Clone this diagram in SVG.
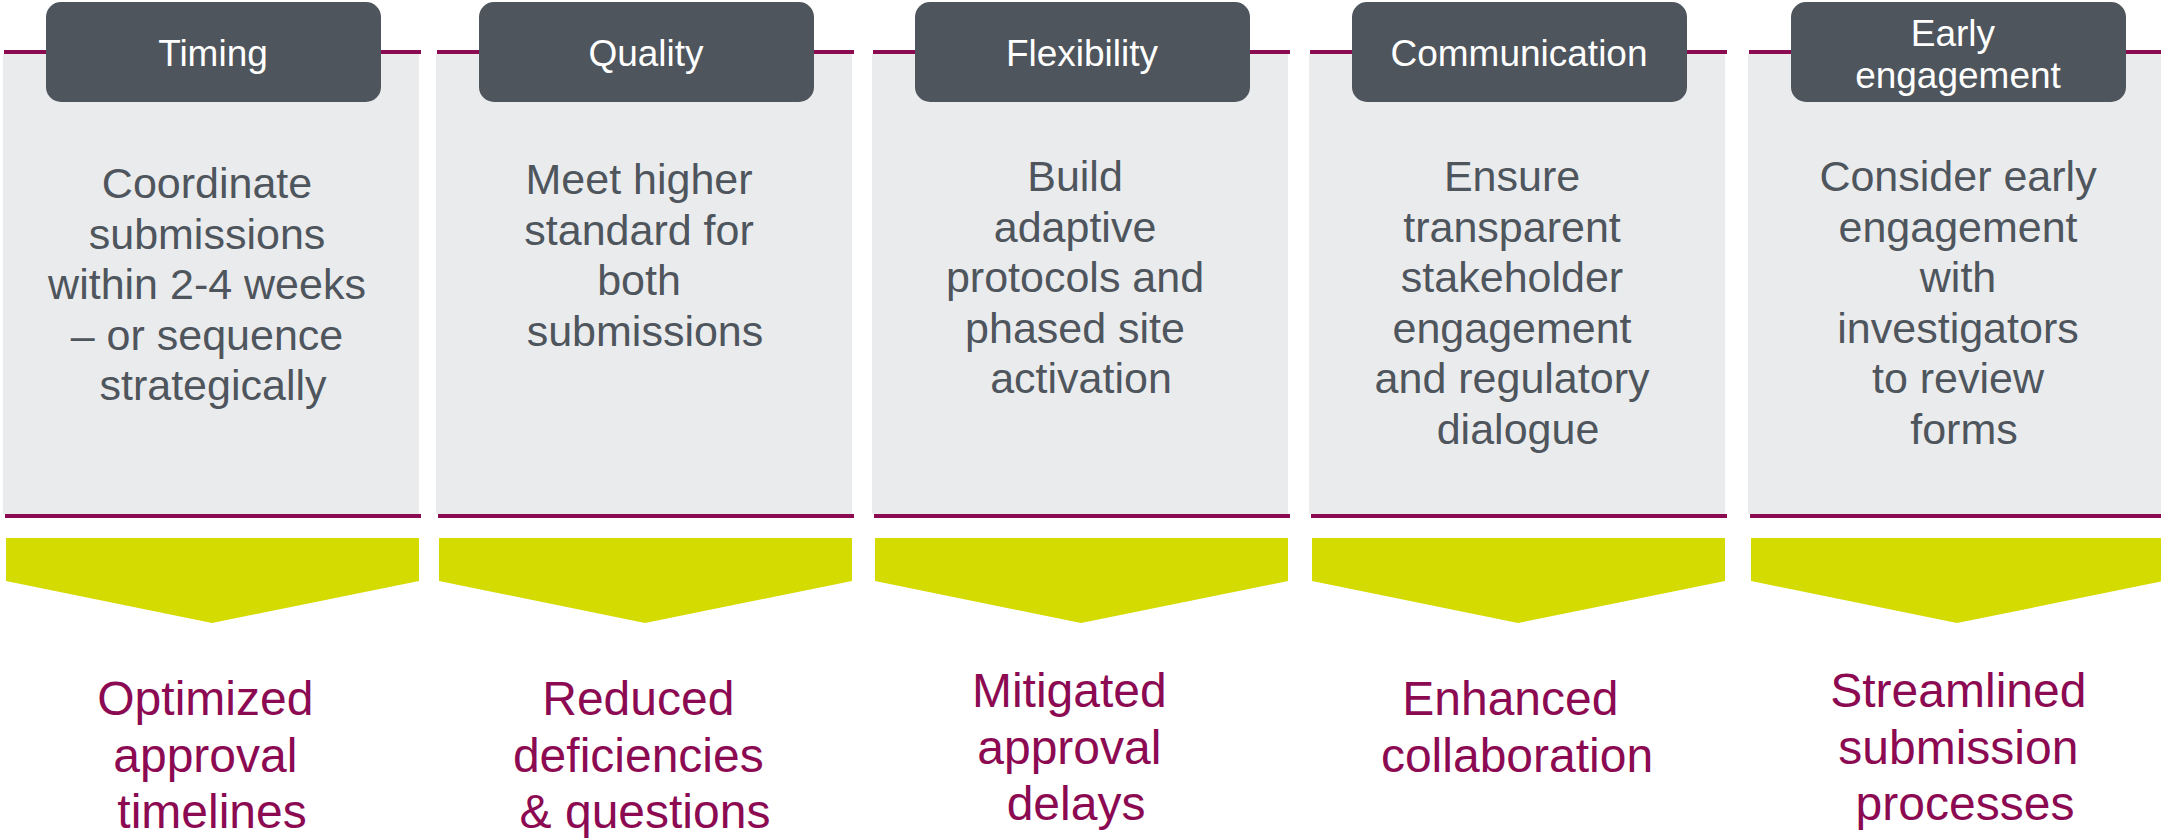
<svg xmlns="http://www.w3.org/2000/svg" width="2161" height="839" viewBox="0 0 2161 839">
  <style>
    .panel { fill: #EAEBED; }
    .rule { fill: #8C0A52; }
    .chev { fill: #D4DB00; }
    .head { fill: #4E555C; }
    .htxt { font-family: "Liberation Sans", Arial, sans-serif; font-size: 37px; fill: #FFFFFF; text-anchor: middle; }
    .body { font-family: "Liberation Sans", Arial, sans-serif; font-size: 43px; fill: #4E555C; text-anchor: middle; }
    .out { font-family: "Liberation Sans", Arial, sans-serif; font-size: 48px; fill: #8C0A52; text-anchor: middle; }
  </style>
  <defs>
    <!-- one column: panel, rules, header tab, down chevron -->
    <g id="col">
      <rect class="panel" x="0" y="54" width="416" height="460"/>
      <rect class="rule" x="1" y="50" width="417" height="4"/>
      <rect class="rule" x="2" y="514" width="416" height="4"/>
      <polygon class="chev" points="3,538 416,538 416,581 209,623 3,581"/>
      <rect class="head" x="43" y="2" width="335" height="100" rx="15" ry="15"/>
    </g>
  </defs>
  <rect width="2161" height="839" fill="#FFFFFF"/>

  <g id="timing">
    <use href="#col" x="3" y="0"/>
    <text class="htxt" x="213" y="66">Timing</text>
    <text class="body" x="213" y="198">
      <tspan x="213">Coordinate</tspan>
      <tspan x="213" dy="50.6">submissions</tspan>
      <tspan x="213" dy="50.6">within 2-4 weeks</tspan>
      <tspan x="213" dy="50.6">– or sequence</tspan>
      <tspan x="213" dy="50.6">strategically</tspan>
    </text>
    <text class="out" x="212" y="715">
      <tspan x="212">Optimized</tspan>
      <tspan x="212" dy="56.5">approval</tspan>
      <tspan x="212" dy="56.5">timelines</tspan>
    </text>
  </g>

  <g id="quality">
    <use href="#col" x="436" y="0"/>
    <text class="htxt" x="646" y="66">Quality</text>
    <text class="body" x="645" y="194">
      <tspan x="645">Meet higher</tspan>
      <tspan x="645" dy="50.6">standard for</tspan>
      <tspan x="645" dy="50.6">both</tspan>
      <tspan x="645" dy="50.6">submissions</tspan>
    </text>
    <text class="out" x="645" y="715">
      <tspan x="645">Reduced</tspan>
      <tspan x="645" dy="56.5">deficiencies</tspan>
      <tspan x="645" dy="56.5">&amp; questions</tspan>
    </text>
  </g>

  <g id="flexibility">
    <use href="#col" x="872" y="0"/>
    <text class="htxt" x="1082" y="66">Flexibility</text>
    <text class="body" x="1081" y="191">
      <tspan x="1081">Build</tspan>
      <tspan x="1081" dy="50.6">adaptive</tspan>
      <tspan x="1081" dy="50.6">protocols and</tspan>
      <tspan x="1081" dy="50.6">phased site</tspan>
      <tspan x="1081" dy="50.6">activation</tspan>
    </text>
    <text class="out" x="1076" y="707">
      <tspan x="1076">Mitigated</tspan>
      <tspan x="1076" dy="56.5">approval</tspan>
      <tspan x="1076" dy="56.5">delays</tspan>
    </text>
  </g>

  <g id="communication">
    <use href="#col" x="1309" y="0"/>
    <text class="htxt" x="1519" y="66">Communication</text>
    <text class="body" x="1518" y="191">
      <tspan x="1518">Ensure</tspan>
      <tspan x="1518" dy="50.6">transparent</tspan>
      <tspan x="1518" dy="50.6">stakeholder</tspan>
      <tspan x="1518" dy="50.6">engagement</tspan>
      <tspan x="1518" dy="50.6">and regulatory</tspan>
      <tspan x="1518" dy="50.6">dialogue</tspan>
    </text>
    <text class="out" x="1517" y="715">
      <tspan x="1517">Enhanced</tspan>
      <tspan x="1517" dy="56.5">collaboration</tspan>
    </text>
  </g>

  <g id="early-engagement">
    <use href="#col" x="1748" y="0"/>
    <text class="htxt" x="1958" y="46">
      <tspan x="1958">Early</tspan>
      <tspan x="1958" dy="42">engagement</tspan>
    </text>
    <text class="body" x="1964" y="191">
      <tspan x="1964">Consider early</tspan>
      <tspan x="1964" dy="50.6">engagement</tspan>
      <tspan x="1964" dy="50.6">with</tspan>
      <tspan x="1964" dy="50.6">investigators</tspan>
      <tspan x="1964" dy="50.6">to review</tspan>
      <tspan x="1964" dy="50.6">forms</tspan>
    </text>
    <text class="out" x="1965" y="707">
      <tspan x="1965">Streamlined</tspan>
      <tspan x="1965" dy="56.5">submission</tspan>
      <tspan x="1965" dy="56.5">processes</tspan>
    </text>
  </g>

  <g id="connectors"/>
</svg>
